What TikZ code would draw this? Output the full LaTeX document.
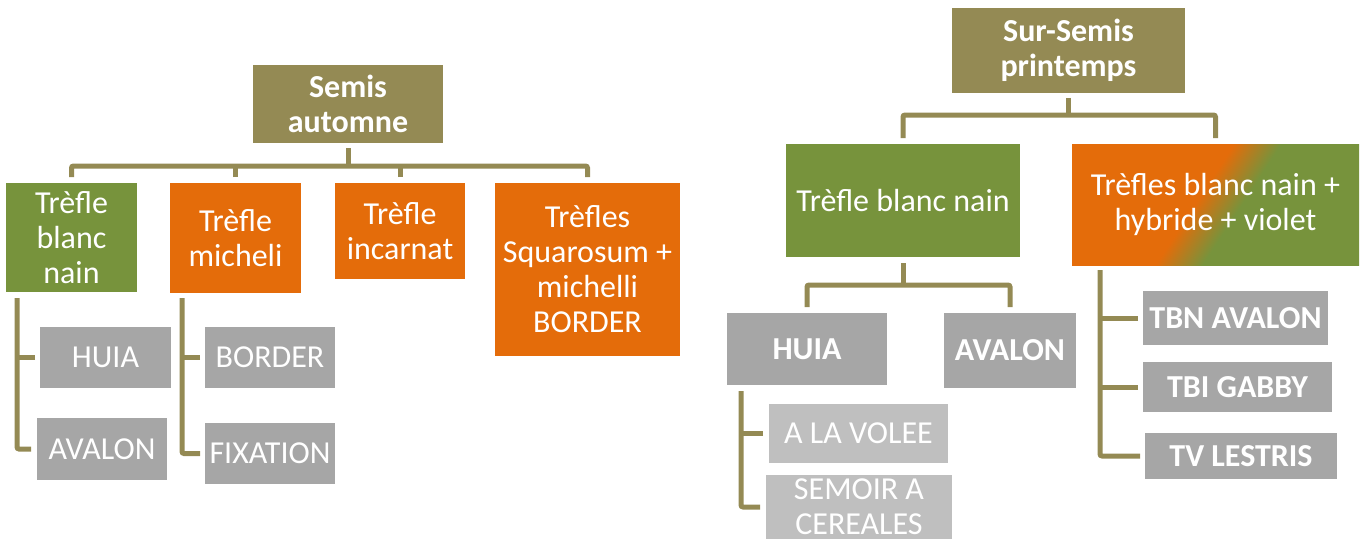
\documentclass[tikz,border=0pt]{standalone}
\usepackage{fontspec}
\setmainfont{Carlito}
\definecolor{cOlive}{HTML}{948A54}
\definecolor{cGreen}{HTML}{77933C}
\definecolor{cOrange}{HTML}{E46C0A}
\definecolor{cGray}{HTML}{A6A6A6}
\definecolor{cLight}{HTML}{BFBFBF}
\pgfdeclarehorizontalshading{orgr}{100bp}{color(0bp)=(cOrange); color(46bp)=(cOrange); color(55bp)=(cGreen); color(100bp)=(cGreen)}
\begin{document}
\begin{tikzpicture}[x=1pt,y=-1pt,
  bx/.style={inner sep=0pt, outer sep=0pt, text=white, align=center, font=\fontsize{32}{35}\selectfont},
  bxb/.style={bx, font=\fontsize{32}{35}\selectfont\bfseries},
  olivebox/.style={fill=cOlive},
  greenbox/.style={fill=cGreen},
  orangebox/.style={fill=cOrange},
  graybox/.style={fill=cGray},
  lightbox/.style={fill=cLight},
  conn/.style={draw=cOlive, line width=5pt, rounded corners=2pt}]
\useasboundingbox (0,0) rectangle (1369,543);

% ---------- left tree ----------
\node[bxb, olivebox, minimum width=190pt, minimum height=78pt] (semis) at (348,104) {Semis\\automne};
\node[bx, greenbox, minimum width=131pt, minimum height=109pt] (tbnL) at (71.5,237.5) {Trèfle\\blanc\\nain};
\node[bx, orangebox, minimum width=131pt, minimum height=110pt] (mich) at (235.5,238) {Trèfle\\micheli};
\node[bx, orangebox, minimum width=130pt, minimum height=96pt] (inc) at (400,231) {Trèfle\\incarnat};
\node[bx, orangebox, minimum width=185pt, minimum height=173pt] (sq) at (587.5,269.5) {Trèfles\\Squarosum +\\michelli\\BORDER};
\node[bx, graybox, minimum width=131pt, minimum height=61pt] (huiaL) at (105.5,357.5) {HUIA};
\node[bx, graybox, minimum width=130pt, minimum height=62pt] (avL) at (102,449) {AVALON};
\node[bx, graybox, minimum width=130pt, minimum height=61pt] (border) at (270,357.5) {BORDER};
\node[bx, graybox, minimum width=130pt, minimum height=61pt] (fix) at (270,453.5) {FIXATION};

\coordinate (barL) at (348,166);
\draw[conn] ([yshift=-5pt]semis.south) -- (barL);
\draw[conn] ([yshift=6pt]tbnL.north) |- (sq.north |- barL) -- ([yshift=6pt]sq.north);
\draw[conn] ([yshift=6pt]mich.north) -- (mich.north |- barL);
\draw[conn] ([yshift=6pt]inc.north) -- (inc.north |- barL);

\coordinate (bL1) at (17,298);
\draw[conn] (bL1) |- ([xshift=-6pt]avL.west);
\draw[conn] ([xshift=-5pt]huiaL.west) -- (bL1 |- huiaL.west);
\coordinate (bL2) at (182,298);
\draw[conn] (bL2) |- ([xshift=-5pt]fix.west);
\draw[conn] ([xshift=-5pt]border.west) -- (bL2 |- border.west);

% ---------- right tree ----------
\node[bxb, olivebox, minimum width=233pt, minimum height=85pt] (sur) at (1068.5,50.5) {Sur-Semis\\printemps};
\node[bx, greenbox, minimum width=234pt, minimum height=113pt] (tbnR) at (903,200.5) {Trèfle blanc nain};
\node[bx, shade, shading=orgr, shading angle=-33, minimum width=287pt, minimum height=121pt] (grad) at (1215.5,204.5) {Trèfles blanc nain +\\hybride + violet};
\node[bxb, graybox, minimum width=160pt, minimum height=72pt] (huiaR) at (807,349) {HUIA};
\node[bxb, graybox, minimum width=132pt, minimum height=75pt] (avR) at (1010,350.5) {AVALON};
\node[bx, lightbox, minimum width=179pt, minimum height=59pt] (volee) at (858.5,433.5) {A LA VOLEE};
\node[bx, lightbox, minimum width=186pt, minimum height=64pt] (semoir) at (859,507) {SEMOIR A\\CEREALES};
\node[bxb, graybox, minimum width=185pt, minimum height=54pt] (tbnav) at (1235.5,318) {TBN AVALON};
\node[bxb, graybox, minimum width=189pt, minimum height=50pt] (tbi) at (1237.5,387) {TBI GABBY};
\node[bxb, graybox, minimum width=192pt, minimum height=46pt] (tv) at (1241,456) {TV LESTRIS};

\coordinate (barR) at (1068.5,115);
\draw[conn] ([yshift=-5pt]sur.south) -- (barR);
\draw[conn] ([yshift=6pt]tbnR.north) |- (grad.north |- barR) -- ([yshift=6pt]grad.north);
\coordinate (barR2) at (903,285);
\draw[conn] ([yshift=-6pt]tbnR.south) -- (barR2);
\draw[conn] ([yshift=6pt]huiaR.north) |- (avR.north |- barR2) -- ([yshift=6pt]avR.north);

\coordinate (bR1) at (741,391);
\draw[conn] (bR1) |- ([xshift=-6pt]semoir.west);
\draw[conn] ([xshift=-6pt]volee.west) -- (bR1 |- volee.west);
\coordinate (bR2) at (1100,270);
\draw[conn] (bR2) |- ([xshift=-5pt]tv.west);
\draw[conn] ([xshift=-5pt]tbnav.west) -- (bR2 |- tbnav.west);
\draw[conn] ([xshift=-5pt]tbi.west) -- (bR2 |- tbi.west);
\end{tikzpicture}
\end{document}
